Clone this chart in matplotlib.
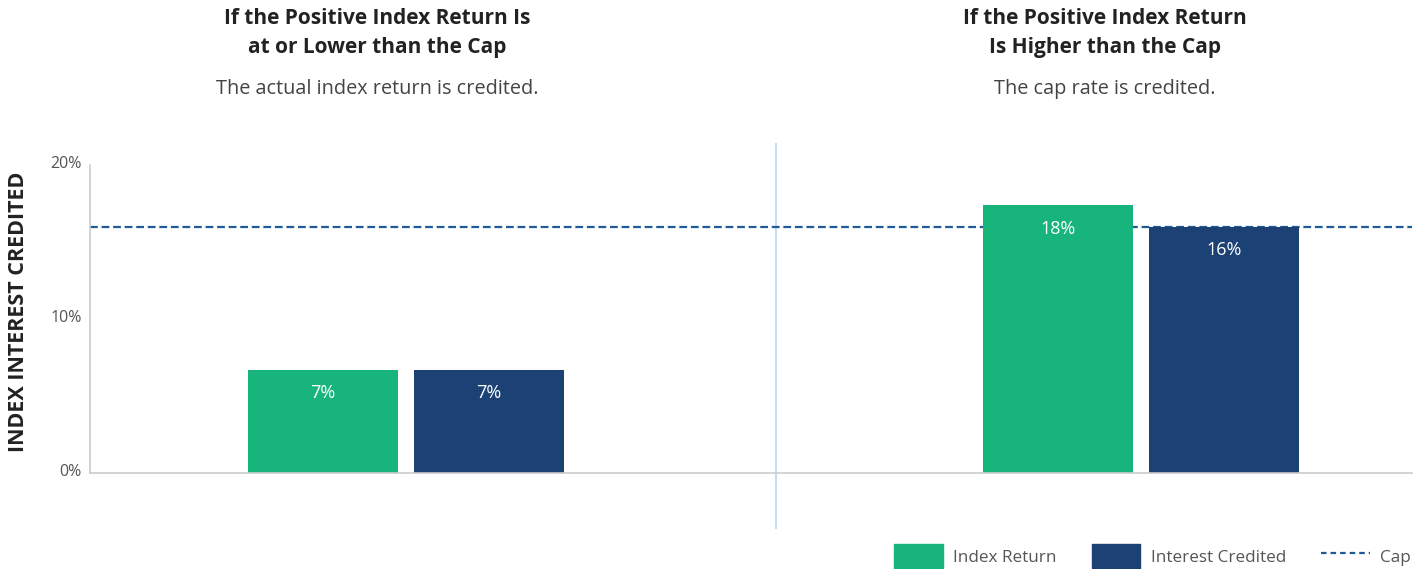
import matplotlib
matplotlib.use('Agg')
import matplotlib.pyplot as plt
import matplotlib.transforms as mtransforms
from matplotlib.patches import Patch
from matplotlib.lines import Line2D
import numpy as np

plt.rcParams['font.family'] = ['Open Sans', 'DejaVu Sans']

# data
scenarios = ['At or below cap', 'Above cap']
index_return = [6.7, 17.4]
interest_credited = [6.7, 16.0]
index_labels = ['7%', '18%']
credited_labels = ['7%', '16%']
cap_rate = 16.0
yticks = [0, 10, 20]
ytick_labels = ['0%', '10%', '20%']

titles = ['If the Positive Index Return Is\nat or Lower than the Cap',
          'If the Positive Index Return\nIs Higher than the Cap']
subtitles = ['The actual index return is credited.',
             'The cap rate is credited.']

GREEN = '#17b57b'
NAVY = '#1b4175'
CAP_BLUE = '#1f5a99'

W, H = 1424, 569
fig = plt.figure(figsize=(W / 100, H / 100), dpi=100)
ax = fig.add_axes([90 / W, (H - 473) / H, (1412 - 90) / W, (473 - 165) / H])

x = np.arange(len(scenarios))
bw = 0.204
off = 0.1128
b1 = ax.bar(x - off, index_return, bw, color=GREEN, label='Index Return', zorder=2)
b2 = ax.bar(x + off, interest_credited, bw, color=NAVY, label='Interest Credited', zorder=2)

for bars, labels in ((b1, index_labels), (b2, credited_labels)):
    for rect, lab in zip(bars, labels):
        ax.annotate(lab, (rect.get_x() + rect.get_width() / 2, rect.get_height()),
                    xytext=(0, -17), textcoords='offset points',
                    ha='center', va='center', color='white', fontsize=13, zorder=3)

ax.axhline(cap_rate, color=CAP_BLUE, lw=1.6, dashes=(3.5, 1.7), zorder=1)

# divider between the two scenarios
ax.axvline(0.503, ymin=(473 - 528) / 308, ymax=(473 - 144) / 308,
           color='#bfdff7', lw=1.5, clip_on=False, zorder=0)

ax.set_xlim(-0.429, 1.368)
ax.set_ylim(0, 20)
ax.set_xticks([])
ax.set_yticks(yticks)
ax.set_yticklabels(ytick_labels, fontsize=11.5, color='#555555')
ax.tick_params(axis='y', length=0, pad=6)
shift = mtransforms.ScaledTranslation(0, 3 / 100, fig.dpi_scale_trans)
for lab in ax.get_yticklabels():
    lab.set_transform(lab.get_transform() + shift)
for s in ('top', 'right'):
    ax.spines[s].set_visible(False)
for s in ('left', 'bottom'):
    ax.spines[s].set_color('#cccccc')
    ax.spines[s].set_linewidth(1.2)

fig.text(19 / W, 1 - 312 / H, 'INDEX INTEREST CREDITED', rotation=90,
         ha='center', va='center', fontsize=15.5, fontweight='bold', color='#222222')

for cx, t, st in zip([377 / W, 1105 / W], titles, subtitles):
    fig.text(cx, 1 - 33 / H, t, ha='center', va='center', fontsize=15,
             fontweight='bold', color='#222222', linespacing=1.45)
    fig.text(cx, 1 - 89 / H, st, ha='center', va='center', fontsize=14.3,
             color='#444444')

handles = [Patch(color=GREEN, label='Index Return'),
           Patch(color=NAVY, label='Interest Credited'),
           Line2D([], [], color=CAP_BLUE, lw=1.6, dashes=(2.5, 1.8), label='Cap')]
fig.legend(handles=handles, loc='center right', bbox_to_anchor=(1426 / W, 1 - 556 / H),
           ncol=3, frameon=False, fontsize=12.3, handlelength=2.85, handleheight=1.75,
           handletextpad=0.6, columnspacing=2.05, labelcolor='#555555')

fig.savefig('out.png', dpi=100)
